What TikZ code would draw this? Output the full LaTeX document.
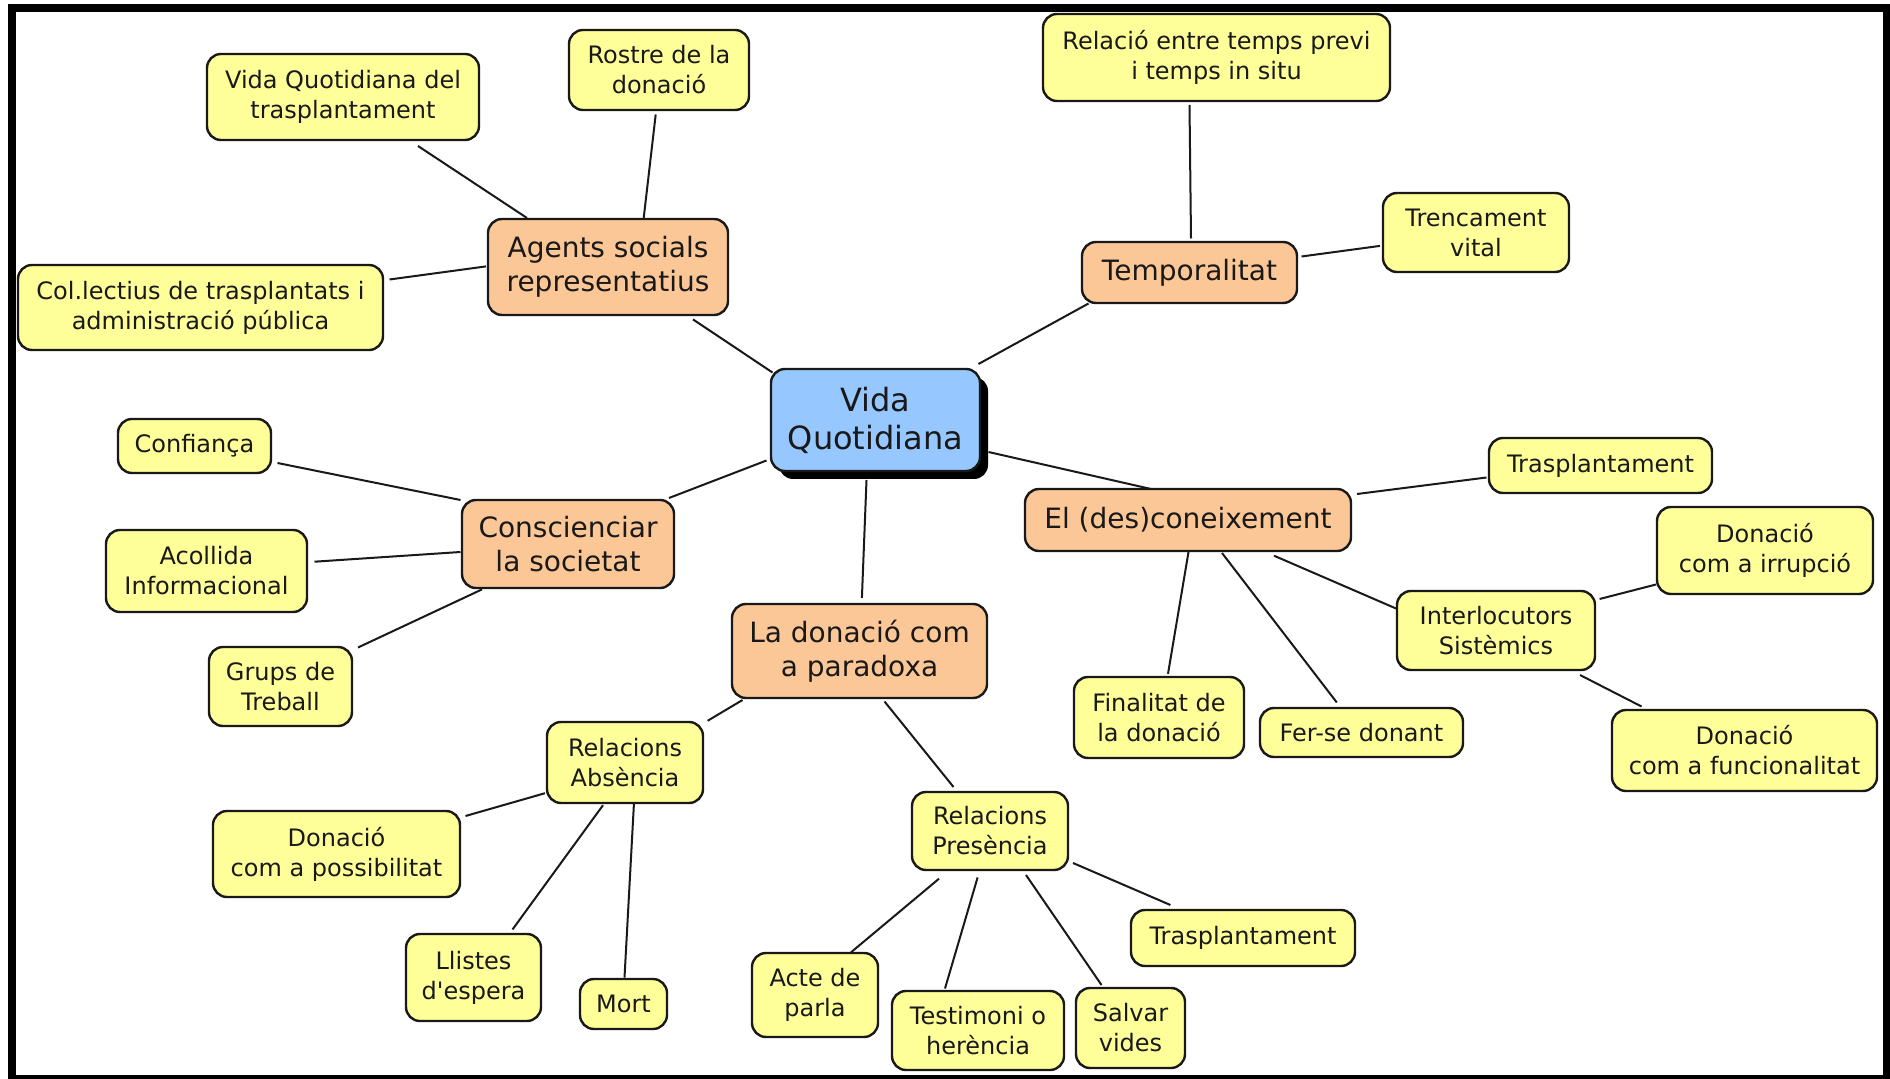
\documentclass[tikz,border=0pt]{standalone}
\usepackage{fontspec}
\setmainfont{DejaVu Sans}
\usetikzlibrary{shadows}
\definecolor{leaf}{RGB}{255,255,153}
\definecolor{branch}{RGB}{252,199,150}
\definecolor{hub}{RGB}{150,200,255}
\definecolor{ink}{RGB}{25,25,25}
\tikzset{
  sz/.style 2 args={minimum width=#1*0.5pt, minimum height=#2*0.5pt},
  basebox/.style={draw=ink, line width=1.2pt, rounded corners=7pt, align=center,
    inner sep=0pt, text=ink},
  leafbox/.style={basebox, fill=leaf, font=\fontsize{12pt}{15pt}\selectfont},
  branchbox/.style={basebox, fill=branch, font=\fontsize{14pt}{17pt}\selectfont},
  hubbox/.style={basebox, fill=hub, font=\fontsize{16pt}{19pt}\selectfont,
    drop shadow={shadow xshift=4pt, shadow yshift=-4pt, fill=black, opacity=1}},
  conn/.style={draw=ink, line width=1pt}
}
\newcommand\link[4]{\draw[conn] ([shift={#2}]#1.center) -- ([shift={#4}]#3.center);}
\begin{document}
\begin{tikzpicture}[x=0.5pt,y=-0.5pt]
  % page and frame
  \useasboundingbox (0,0) rectangle (1890,1079);
  \fill[white] (0,0) rectangle (1890,1079);
  \fill[black] (8,4) rectangle (1890,1079);
  \fill[white] (16,12) rectangle (1883,1075);

  % centre
  \node[hubbox, sz={209}{102}] (vq) at (875.5,420) {Vida\\Quotidiana};

  % main branches
  \node[branchbox, sz={240}{96}] (agents) at (608,267) {Agents socials\\representatius};
  \node[branchbox, sz={215}{61}] (temp) at (1189.5,272.5) {Temporalitat};
  \node[branchbox, sz={212}{88}] (consc) at (568,544) {Conscienciar\\la societat};
  \node[branchbox, sz={326}{62}] (desc) at (1188,520) {El (des)coneixement};
  \node[branchbox, sz={255}{94}] (parad) at (859.5,651) {La donació com\\a paradoxa};

  % leaves: agents
  \node[leafbox, sz={272}{86}] (vqt) at (343,97) {Vida Quotidiana del\\trasplantament};
  \node[leafbox, sz={180}{80}] (rostre) at (659,70) {Rostre de la\\donació};
  \node[leafbox, sz={365}{85}] (colect) at (200.5,307.5) {Col.lectius de trasplantats i\\administració pública};

  % leaves: temporalitat
  \node[leafbox, sz={347}{87}] (rel) at (1216.5,57.5) {Relació entre temps previ\\i temps in situ};
  \node[leafbox, sz={186}{79}] (tren) at (1476,232.5) {Trencament\\vital};

  % leaves: conscienciar
  \node[leafbox, sz={153}{54}] (conf) at (194.5,446) {Confiança};
  \node[leafbox, sz={201}{82}] (acol) at (206.5,571) {Acollida\\Informacional};
  \node[leafbox, sz={143}{79}] (grups) at (280.5,686.5) {Grups de\\Treball};

  % leaves: (des)coneixement
  \node[leafbox, sz={223}{55}] (trasR) at (1600.5,465.5) {Trasplantament};
  \node[leafbox, sz={198}{79}] (inter) at (1496,630.5) {Interlocutors\\Sistèmics};
  \node[leafbox, sz={216}{87}] (irr) at (1765,550.5) {Donació\\com a irrupció};
  \node[leafbox, sz={265}{81}] (func) at (1744.5,750.5) {Donació\\com a funcionalitat};
  \node[leafbox, sz={170}{81}] (fin) at (1159,717.5) {Finalitat de\\la donació};
  \node[leafbox, sz={203}{49}] (fer) at (1361.5,732.5) {Fer-se donant};

  % leaves: paradoxa
  \node[leafbox, sz={156}{81}] (abs) at (625,762.5) {Relacions\\Absència};
  \node[leafbox, sz={247}{86}] (poss) at (336.5,854) {Donació\\com a possibilitat};
  \node[leafbox, sz={135}{87}] (llis) at (473.5,977.5) {Llistes\\d\textquotesingle espera};
  \node[leafbox, sz={87}{50}] (mort) at (623.5,1004) {Mort};
  \node[leafbox, sz={156}{78}] (pres) at (990,831) {Relacions\\Presència};
  \node[leafbox, sz={224}{56}] (trasB) at (1243,938) {Trasplantament};
  \node[leafbox, sz={126}{84}] (acte) at (815,995) {Acte de\\parla};
  \node[leafbox, sz={172}{79}] (test) at (978,1030.5) {Testimoni o\\herència};
  \node[leafbox, sz={109}{80}] (salv) at (1130.5,1028) {Salvar\\vides};

  % connectors
  \link{vq}{(-103,-47.5)}{agents}{(85,52.4)}
  \link{vq}{(103,-56)}{temp}{(-101,31)}
  \link{vq}{(-109,40.5)}{consc}{(101,-46)}
  \link{vq}{(113,32)}{desc}{(-37,-31)}
  \link{vq}{(-9,60)}{parad}{(2.4,-53)}

  \link{agents}{(-81,-49)}{vqt}{(75,49)}
  \link{agents}{(35.7,-49)}{rostre}{(-3.3,44.5)}
  \link{agents}{(-122,-0.6)}{colect}{(189,-28)}

  \link{temp}{(1.5,-34)}{rel}{(-27,47.4)}
  \link{temp}{(112,-16)}{tren}{(-96,13.4)}

  \link{consc}{(-107.5,-44)}{conf}{(83,17)}
  \link{consc}{(-107.5,8)}{acol}{(108,-9.3)}
  \link{consc}{(-86,45.4)}{grups}{(77.5,-39)}

  \link{desc}{(169,-26)}{trasR}{(-114,12)}
  \link{desc}{(86,35.7)}{inter}{(-100,-22)}
  \link{desc}{(0.5,32)}{fin}{(9,-43.7)}
  \link{desc}{(34,33)}{fer}{(-24.7,-30)}
  \link{inter}{(103.6,-31.5)}{irr}{(-109,34)}
  \link{inter}{(84,44.5)}{func}{(-103,-44)}

  \link{parad}{(-117,49)}{abs}{(82.6,-41.7)}
  \link{parad}{(25,50.5)}{pres}{(-36.5,-44)}
  \link{abs}{(-80,30.7)}{poss}{(129,-38)}
  \link{abs}{(-22,42.7)}{llis}{(39,-48)}
  \link{abs}{(9,40)}{mort}{(1,-26.4)}
  \link{pres}{(-51,47.7)}{acte}{(36,-42.7)}
  \link{pres}{(-12.4,46.5)}{test}{(-33,-42)}
  \link{pres}{(36,44)}{salv}{(-29,-43)}
  \link{pres}{(83,32)}{trasB}{(-72.6,-33)}
\end{tikzpicture}
\end{document}
